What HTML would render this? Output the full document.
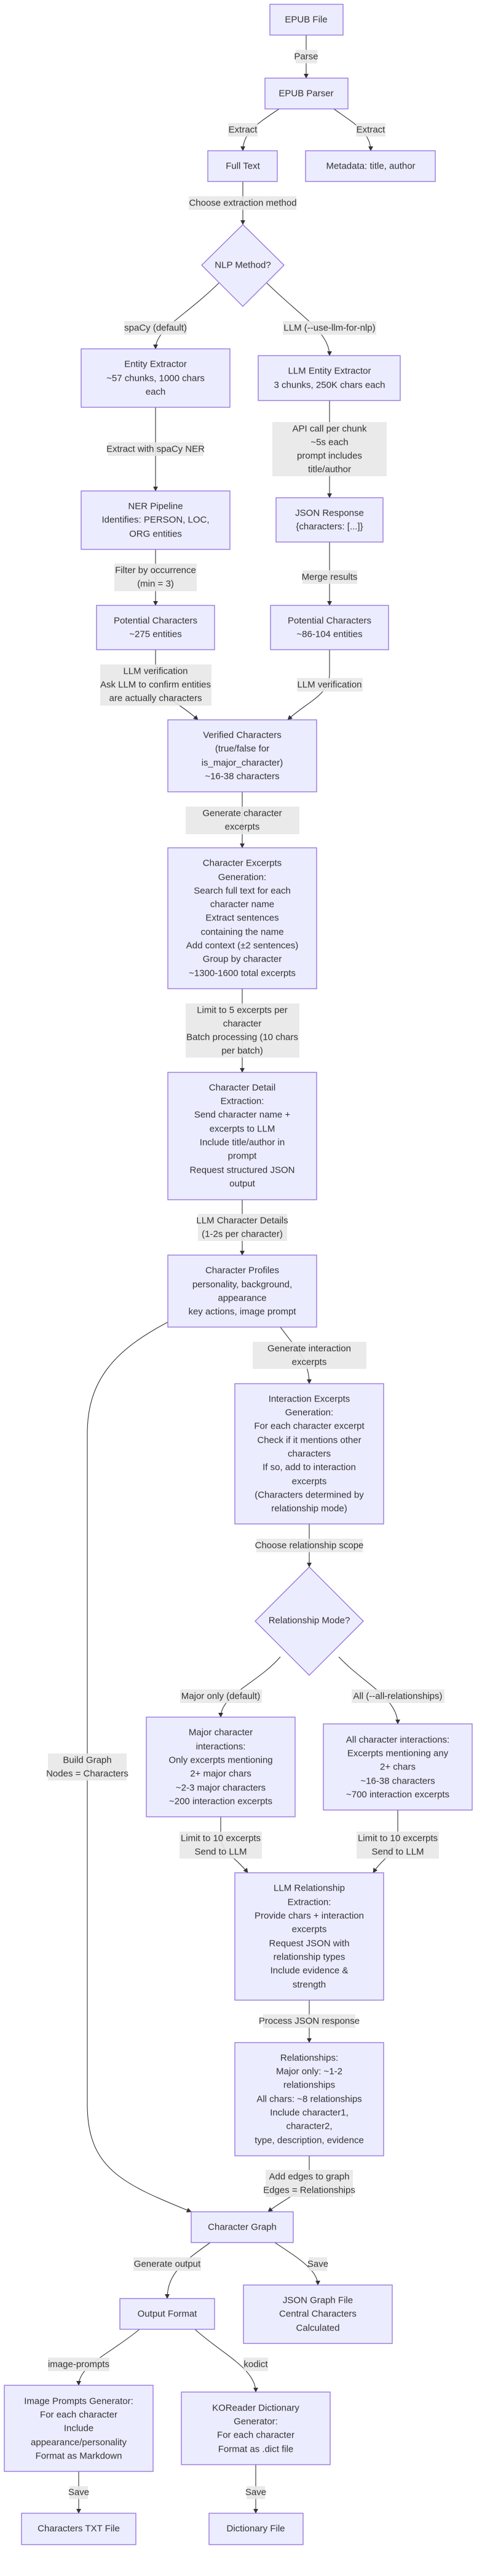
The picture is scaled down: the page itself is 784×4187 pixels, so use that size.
<!DOCTYPE html>
<html><head><meta charset="utf-8"><style>
html,body{margin:0;padding:0;background:#fff;}
svg{display:block;}
text{font-family:"Liberation Sans",sans-serif;font-size:15px;fill:#333;text-anchor:middle;dominant-baseline:central;}
.n{fill:#ECECFF;stroke:#9370DB;stroke-width:1.3;}
.l{fill:#e8e8e8;opacity:0.9;}
.e{fill:none;stroke:#333;stroke-width:1.1;}
</style></head><body>
<svg width="784" height="4187" viewBox="0 0 784 4187" xmlns="http://www.w3.org/2000/svg">
<defs><marker id="a" viewBox="0 0 10 10" refX="9" refY="5" markerWidth="8" markerHeight="8" orient="auto-start-reverse" markerUnits="userSpaceOnUse"><path d="M0,0L10,5L0,10z" fill="#333"/></marker></defs>

<!-- edges -->
<g class="e" marker-end="url(#a)">
<path d="M498,57L498,127"/>
<path d="M454,177C420,200 395,215 395,245"/>
<path d="M543,177C575,200 603,215 603,245"/>
<path d="M395,295L395,365"/>
<path d="M356,460C300,515 253,535 253,567"/>
<path d="M434,460C490,515 536,540 536,578"/>
<path d="M253,662L253,798"/>
<path d="M536,651L536,809"/>
<path d="M253,893L253,984"/>
<path d="M536,881L536,984"/>
<path d="M253,1056L253,1100C253,1130 290,1140 322,1170"/>
<path d="M536,1056L536,1095C536,1130 500,1140 468,1170"/>
<path d="M394,1287L394,1378"/>
<path d="M394,1607L394,1743"/>
<path d="M394,1950L394,2040"/>
<path d="M456,2157C480,2190 503,2210 503,2249"/>
<path d="M273,2149C185,2195 142,2245 142,2330L142,3420C142,3525 200,3550 311,3595"/>
<path d="M503,2477L503,2547"/>
<path d="M456,2693C420,2735 359,2755 359,2791"/>
<path d="M551,2693C590,2735 647,2760 647,2802"/>
<path d="M359,2953L359,2985C359,3010 385,3020 403,3044"/>
<path d="M647,2942L647,2985C647,3010 622,3020 607,3044"/>
<path d="M503,3251L503,3320"/>
<path d="M503,3504L503,3530C503,3560 460,3575 436,3595"/>
<path d="M342,3645C300,3675 272,3695 272,3736"/>
<path d="M447,3645C485,3670 517,3690 517,3714"/>
<path d="M227,3786C180,3825 128,3845 128,3877"/>
<path d="M317,3786C360,3825 416,3850 416,3888"/>
<path d="M128,4017L128,4085"/>
<path d="M416,4006L416,4085"/>
</g>

<!-- nodes -->
<rect class="n" x="439" y="7" width="119" height="50"/><text x="498" y="32">EPUB File</text>
<rect class="n" x="431" y="127" width="135" height="50"/><text x="498" y="152">EPUB Parser</text>
<rect class="n" x="338" y="245" width="113" height="50"/><text x="395" y="270">Full Text</text>
<rect class="n" x="497" y="245" width="211" height="50"/><text x="603" y="270">Metadata: title, author</text>
<polygon class="n" points="395,365 462,431 395,498 328,431"/><text x="395" y="431">NLP Method?</text>

<rect class="n" x="132" y="567" width="242" height="95"/>
<text x="253" y="592">Entity Extractor</text><text x="253" y="615">~57 chunks, 1000 chars</text><text x="253" y="637">each</text>
<rect class="n" x="420" y="578" width="231" height="73"/>
<text x="536" y="603">LLM Entity Extractor</text><text x="536" y="626">3 chunks, 250K chars each</text>
<rect class="n" x="132" y="798" width="242" height="95"/>
<text x="253" y="823">NER Pipeline</text><text x="253" y="845">Identifies: PERSON, LOC,</text><text x="253" y="868">ORG entities</text>
<rect class="n" x="449" y="809" width="174" height="72"/>
<text x="536" y="834">JSON Response</text><text x="536" y="856">{characters: [...]}</text>
<rect class="n" x="157" y="984" width="192" height="72"/>
<text x="253" y="1009">Potential Characters</text><text x="253" y="1031">~275 entities</text>
<rect class="n" x="440" y="984" width="192" height="72"/>
<text x="536" y="1009">Potential Characters</text><text x="536" y="1031">~86-104 entities</text>
<rect class="n" x="273" y="1170" width="242" height="117"/>
<text x="394" y="1195">Verified Characters</text><text x="394" y="1217">(true/false for</text><text x="394" y="1240">is_major_character)</text><text x="394" y="1262">~16-38 characters</text>

<rect class="n" x="273" y="1378" width="242" height="229"/>
<text x="394" y="1403">Character Excerpts</text><text x="394" y="1426">Generation:</text><text x="394" y="1448">Search full text for each</text><text x="394" y="1470">character name</text><text x="394" y="1492">Extract sentences</text><text x="394" y="1515">containing the name</text><text x="394" y="1537">Add context (±2 sentences)</text><text x="394" y="1559">Group by character</text><text x="394" y="1582">~1300-1600 total excerpts</text>

<rect class="n" x="273" y="1743" width="242" height="207"/>
<text x="394" y="1768">Character Detail</text><text x="394" y="1790">Extraction:</text><text x="394" y="1812">Send character name +</text><text x="394" y="1835">excerpts to LLM</text><text x="394" y="1857">Include title/author in</text><text x="394" y="1879">prompt</text><text x="394" y="1902">Request structured JSON</text><text x="394" y="1924">output</text>

<rect class="n" x="273" y="2040" width="242" height="117"/>
<text x="394" y="2065">Character Profiles</text><text x="394" y="2088">personality, background,</text><text x="394" y="2110">appearance</text><text x="394" y="2132">key actions, image prompt</text>

<rect class="n" x="382" y="2249" width="242" height="228"/>
<text x="503" y="2274">Interaction Excerpts</text><text x="503" y="2296">Generation:</text><text x="503" y="2318">For each character excerpt</text><text x="503" y="2341">Check if it mentions other</text><text x="503" y="2363">characters</text><text x="503" y="2385">If so, add to interaction</text><text x="503" y="2408">excerpts</text><text x="503" y="2430">(Characters determined by</text><text x="503" y="2452">relationship mode)</text>

<polygon class="n" points="503,2547 591,2635 503,2723 415,2635"/><text x="503" y="2634">Relationship Mode?</text>

<rect class="n" x="238" y="2791" width="242" height="162"/>
<text x="359" y="2816">Major character</text><text x="359" y="2839">interactions:</text><text x="359" y="2861">Only excerpts mentioning</text><text x="359" y="2883">2+ major chars</text><text x="359" y="2906">~2-3 major characters</text><text x="359" y="2928">~200 interaction excerpts</text>
<rect class="n" x="526" y="2802" width="242" height="140"/>
<text x="647" y="2828">All character interactions:</text><text x="647" y="2850">Excerpts mentioning any</text><text x="647" y="2872">2+ chars</text><text x="647" y="2895">~16-38 characters</text><text x="647" y="2917">~700 interaction excerpts</text>

<rect class="n" x="382" y="3044" width="242" height="207"/>
<text x="503" y="3069">LLM Relationship</text><text x="503" y="3092">Extraction:</text><text x="503" y="3114">Provide chars + interaction</text><text x="503" y="3136">excerpts</text><text x="503" y="3159">Request JSON with</text><text x="503" y="3181">relationship types</text><text x="503" y="3203">Include evidence &amp;</text><text x="503" y="3226">strength</text>

<rect class="n" x="382" y="3320" width="242" height="184"/>
<text x="503" y="3345">Relationships:</text><text x="503" y="3367">Major only: ~1-2</text><text x="503" y="3389">relationships</text><text x="503" y="3412">All chars: ~8 relationships</text><text x="503" y="3434">Include character1,</text><text x="503" y="3456">character2,</text><text x="503" y="3479">type, description, evidence</text>

<rect class="n" x="311" y="3595" width="166" height="50"/><text x="394" y="3620">Character Graph</text>
<rect class="n" x="195" y="3736" width="154" height="50"/><text x="272" y="3761">Output Format</text>
<rect class="n" x="396" y="3714" width="242" height="95"/>
<text x="517" y="3739">JSON Graph File</text><text x="517" y="3761">Central Characters</text><text x="517" y="3784">Calculated</text>

<rect class="n" x="7" y="3877" width="242" height="140"/>
<text x="128" y="3903">Image Prompts Generator:</text><text x="128" y="3925">For each character</text><text x="128" y="3947">Include</text><text x="128" y="3970">appearance/personality</text><text x="128" y="3992">Format as Markdown</text>
<rect class="n" x="295" y="3888" width="242" height="118"/>
<text x="416" y="3914">KOReader Dictionary</text><text x="416" y="3936">Generator:</text><text x="416" y="3958">For each character</text><text x="416" y="3981">Format as .dict file</text>

<rect class="n" x="35" y="4085" width="186" height="51"/><text x="128" y="4110">Characters TXT File</text>
<rect class="n" x="340" y="4085" width="153" height="51"/><text x="416" y="4110">Dictionary File</text>

<!-- edge labels -->
<rect class="l" x="481" y="81" width="35" height="22"/><text x="498" y="92">Parse</text>
<rect class="l" x="371" y="200" width="48" height="22"/><text x="395" y="211">Extract</text>
<rect class="l" x="579" y="200" width="48" height="22"/><text x="603" y="211">Extract</text>
<rect class="l" x="307" y="319" width="175" height="22"/><text x="395" y="330">Choose extraction method</text>
<rect class="l" x="202" y="522" width="102" height="22"/><text x="253" y="533">spaCy (default)</text>
<rect class="l" x="460" y="522" width="152" height="22"/><text x="536" y="533">LLM (--use-llm-for-nlp)</text>
<rect class="l" x="176" y="719" width="155" height="22"/><text x="253" y="730">Extract with spaCy NER</text>
<rect class="l" x="443" y="686" width="186" height="88"/>
<text x="536" y="697">API call per chunk</text><text x="536" y="719">~5s each</text><text x="536" y="741">prompt includes</text><text x="536" y="763">title/author</text>
<rect class="l" x="186" y="916" width="134" height="45"/><text x="253" y="927">Filter by occurrence</text><text x="253" y="949">(min = 3)</text>
<rect class="l" x="492" y="927" width="89" height="22"/><text x="536" y="938">Merge results</text>
<rect class="l" x="163" y="1080" width="181" height="67"/>
<text x="253" y="1091">LLM verification</text><text x="253" y="1113">Ask LLM to confirm entities</text><text x="253" y="1135">are actually characters</text>
<rect class="l" x="483" y="1102" width="107" height="22"/><text x="536" y="1113">LLM verification</text>
<rect class="l" x="302" y="1311" width="185" height="45"/><text x="394" y="1322">Generate character</text><text x="394" y="1344">excerpts</text>
<rect class="l" x="302" y="1631" width="185" height="88"/>
<text x="394" y="1642">Limit to 5 excerpts per</text><text x="394" y="1664">character</text><text x="394" y="1686">Batch processing (10 chars</text><text x="394" y="1708">per batch)</text>
<rect class="l" x="322" y="1973" width="145" height="44"/><text x="394" y="1984">LLM Character Details</text><text x="394" y="2006">(1-2s per character)</text>
<rect class="l" x="411" y="2181" width="185" height="44"/><text x="503" y="2192">Generate interaction</text><text x="503" y="2214">excerpts</text>
<rect class="l" x="417" y="2501" width="173" height="22"/><text x="503" y="2512">Choose relationship scope</text>
<rect class="l" x="293" y="2746" width="133" height="22"/><text x="359" y="2757">Major only (default)</text>
<rect class="l" x="572" y="2746" width="151" height="22"/><text x="647" y="2757">All (--all-relationships)</text>
<rect class="l" x="78" y="2850" width="128" height="44"/><text x="142" y="2861">Build Graph</text><text x="142" y="2883">Nodes = Characters</text>
<rect class="l" x="292" y="2977" width="134" height="44"/><text x="359" y="2988">Limit to 10 excerpts</text><text x="359" y="3010">Send to LLM</text>
<rect class="l" x="580" y="2977" width="134" height="44"/><text x="647" y="2988">Limit to 10 excerpts</text><text x="647" y="3010">Send to LLM</text>
<rect class="l" x="428" y="3274" width="150" height="22"/><text x="503" y="3285">Process JSON response</text>
<rect class="l" x="432" y="3527" width="142" height="44"/><text x="503" y="3538">Add edges to graph</text><text x="503" y="3560">Edges = Relationships</text>
<rect class="l" x="217" y="3669" width="110" height="22"/><text x="272" y="3680">Generate output</text>
<rect class="l" x="502" y="3669" width="30" height="22"/><text x="517" y="3680">Save</text>
<rect class="l" x="78" y="3832" width="100" height="22"/><text x="128" y="3843">image-prompts</text>
<rect class="l" x="396" y="3832" width="40" height="22"/><text x="416" y="3843">kodict</text>
<rect class="l" x="113" y="4041" width="30" height="21"/><text x="128" y="4051">Save</text>
<rect class="l" x="401" y="4041" width="30" height="21"/><text x="416" y="4051">Save</text>
</svg>
</body></html>
